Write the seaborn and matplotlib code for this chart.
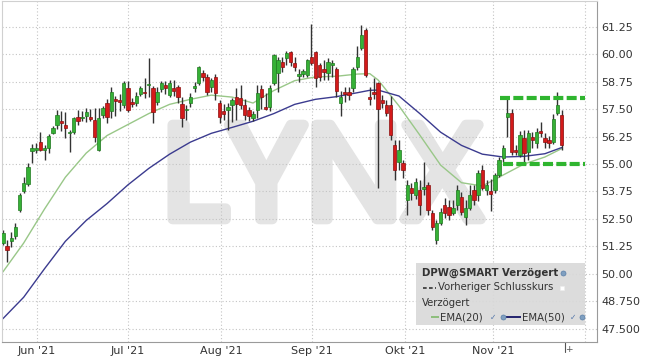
import numpy as np
import matplotlib
matplotlib.use("Agg")
import matplotlib.pyplot as plt
import matplotlib.patheffects as pe
import seaborn as sns
from matplotlib.patches import Rectangle

# ---------------- data ----------------
opens = [51.40, 51.25, 51.50, 51.70, 52.90, 53.75, 54.10, 55.60, 55.65, 56.00,
         55.65, 55.75, 56.40, 56.80, 56.98, 56.80, 56.40, 56.45, 57.15, 57.10,
         57.20, 57.15, 57.00, 55.65, 57.25, 57.80, 57.40, 57.95, 57.90, 57.70,
         58.45, 57.85, 57.80, 58.20, 58.30, 58.60, 58.45, 57.85, 58.40, 58.60,
         58.15, 58.45, 58.50, 57.75, 57.45, 57.80, 58.45, 58.70, 59.15, 58.95,
         58.50, 58.95, 57.80, 57.40, 57.45, 57.70, 58.05, 58.00, 57.70, 57.45,
         57.12, 57.45, 58.40, 57.60, 57.60, 58.70, 59.15, 59.65, 59.85, 60.10,
         59.60, 59.00, 59.10, 59.05, 59.90, 60.10, 59.50, 59.35, 59.15, 59.50,
         59.35, 57.80, 58.30, 58.30, 58.45, 59.40, 60.30, 61.10, 58.05, 58.30,
         58.70, 57.90, 57.69, 57.69, 55.87, 55.09, 55.05, 53.36, 53.90, 53.59,
         53.82, 53.85, 54.04, 52.77, 51.54, 52.30, 53.13, 53.04, 52.77, 53.13,
         53.50, 52.58, 53.00, 53.82, 53.60, 54.73, 53.82, 53.75, 53.82, 54.50,
         55.27, 57.14, 57.32, 55.65, 55.41, 56.18, 55.55, 56.23, 55.96, 56.50,
         56.18, 56.10, 56.00, 57.32, 57.23]
highs = [52.00, 51.55, 51.90, 52.30, 53.70, 54.40, 55.05, 55.90, 55.95, 56.45,
         55.85, 56.35, 56.75, 57.45, 57.40, 57.35, 56.55, 57.15, 57.45, 57.40,
         57.55, 57.50, 57.55, 57.55, 57.65, 57.95, 58.50, 58.10, 58.20, 58.80,
         58.80, 58.00, 58.30, 58.55, 58.90, 59.85, 58.55, 58.50, 58.80, 58.80,
         58.85, 58.85, 58.60, 58.05, 57.70, 58.25, 58.75, 59.45, 59.30, 59.10,
         58.90, 59.10, 57.90, 57.75, 57.80, 58.00, 58.45, 58.60, 57.95, 57.60,
         57.40, 58.60, 58.60, 58.23, 58.60, 60.00, 59.90, 59.90, 60.15, 60.15,
         59.90, 59.35, 59.35, 59.80, 61.40, 60.15, 59.60, 59.75, 59.85, 59.75,
         59.40, 58.35, 58.50, 58.50, 59.40, 60.40, 61.35, 61.20, 58.50, 58.90,
         58.75, 58.15, 57.90, 58.10, 56.10, 56.10, 55.20, 54.25, 54.13, 54.35,
         54.27, 55.10, 54.18, 52.90, 52.45, 53.00, 53.45, 53.35, 53.35, 54.04,
         53.72, 53.36, 54.04, 54.04, 54.75, 54.95, 54.27, 54.30, 54.60, 55.30,
         55.85, 58.05, 57.50, 55.87, 56.50, 56.55, 56.55, 56.45, 56.65, 56.90,
         56.41, 56.30, 57.30, 58.28, 57.46]
lows = [51.30, 50.55, 51.20, 51.60, 52.80, 53.70, 54.00, 55.05, 55.50, 55.60,
        55.20, 55.50, 56.35, 56.60, 56.50, 56.20, 55.55, 56.35, 56.80, 56.95,
        56.90, 56.95, 56.00, 55.60, 57.10, 56.85, 57.10, 57.20, 57.40, 57.55,
        57.35, 57.60, 57.65, 58.10, 58.00, 58.05, 56.85, 57.70, 58.30, 58.20,
        58.05, 58.10, 57.80, 56.70, 57.00, 57.60, 58.30, 58.60, 58.80, 58.15,
        58.30, 57.90, 56.85, 57.00, 56.55, 56.90, 57.00, 57.50, 57.00, 56.95,
        56.95, 57.10, 57.50, 57.45, 57.40, 58.60, 58.30, 59.20, 59.50, 59.45,
        59.25, 58.75, 58.95, 58.95, 59.50, 58.50, 58.80, 58.85, 58.85, 58.95,
        58.05, 57.20, 57.85, 57.90, 58.30, 59.30, 60.20, 58.95, 57.70, 57.95,
        53.90, 57.55, 57.20, 56.10, 54.25, 54.75, 54.35, 52.70, 53.36, 53.40,
        52.68, 53.60, 52.68, 52.00, 51.35, 52.20, 52.55, 52.45, 52.68, 52.90,
        52.68, 52.20, 52.90, 53.13, 53.30, 53.80, 53.60, 52.85, 53.70, 54.40,
        55.10, 56.23, 55.40, 55.40, 55.30, 55.10, 55.20, 55.75, 55.75, 56.25,
        55.75, 55.75, 55.90, 57.23, 55.64]
closes = [51.85, 51.10, 51.65, 52.15, 53.60, 54.15, 54.85, 55.75, 55.75, 55.65,
          55.75, 56.30, 56.65, 57.25, 56.85, 56.62, 56.45, 57.10, 56.95, 57.15,
          57.35, 57.05, 56.25, 57.10, 57.55, 57.15, 58.30, 57.88, 57.85, 58.70,
          57.45, 57.75, 58.10, 58.45, 58.25, 58.65, 57.35, 58.30, 58.70, 58.45,
          58.70, 58.35, 58.05, 57.10, 57.50, 58.05, 58.55, 59.40, 58.95, 58.30,
          58.85, 58.25, 57.15, 57.30, 57.60, 57.92, 57.75, 57.70, 57.25, 57.20,
          57.30, 58.25, 58.05, 57.50, 58.45, 59.95, 59.75, 59.40, 60.05, 59.65,
          59.40, 59.10, 59.25, 59.75, 59.60, 58.90, 58.95, 59.20, 59.65, 59.60,
          58.35, 58.05, 58.20, 58.15, 59.35, 59.90, 60.90, 59.05, 57.95, 58.20,
          57.50, 57.80, 57.32, 56.32, 54.73, 55.64, 54.73, 54.04, 53.68, 54.18,
          53.13, 53.95, 52.90, 52.13, 52.30, 52.80, 52.77, 52.68, 53.00, 53.82,
          52.80, 53.00, 53.59, 53.36, 54.60, 53.90, 54.04, 53.65, 54.50, 55.18,
          55.73, 57.32, 55.55, 55.55, 56.32, 55.50, 56.41, 56.10, 56.46, 56.42,
          56.00, 55.96, 57.05, 57.69, 55.87]

ema_idx = [0, 5, 10, 15, 20, 25, 30, 35, 40, 45, 50, 55, 60, 65, 70, 75, 80,
           85, 88, 90, 95, 100, 105, 110, 115, 120, 125, 130, 134]
ema20 = [50.08, 51.40, 52.95, 54.40, 55.50, 56.30, 56.80, 57.30, 57.72, 57.95,
         58.14, 58.05, 57.78, 58.35, 58.80, 58.97, 59.00, 59.10, 59.12, 58.83, 57.65,
         56.32, 54.95, 54.15, 54.00, 54.50, 55.00, 55.32, 55.70]
ema50 = [47.95, 48.93, 50.23, 51.48, 52.43, 53.20, 54.05, 54.80, 55.45, 56.00,
         56.40, 56.67, 56.95, 57.30, 57.72, 57.95, 58.07, 58.25, 58.36, 58.37, 58.10,
         57.30, 56.45, 55.85, 55.45, 55.32, 55.35, 55.47, 55.75]

month_labels = ["Jun '21", "Jul '21", "Aug '21", "Sep '21", "Okt '21", "Nov '21", ""]
month_pos = [8.1, 30.0, 52.3, 74.2, 96.5, 117.6, 139.6]
ytick_vals = [47.5, 48.75, 50.0, 51.25, 52.5, 53.75, 55.0, 56.25, 57.5, 58.75, 60.0, 61.25]
ytick_labels = ["47.500", "48.750", "50.00", "51.25", "52.50", "53.75", "55.00",
                "56.25", "57.50", "58.75", "60.00", "61.25"]
range_levels = [58.0, 55.0]
range_start = [119.3, 120.0]
range_end = 139.6

# ---------------- drawing ----------------
sns.set_theme(style="white")
plt.rcParams['font.family'] = ['DejaVu Sans']

W, H = 645, 358
fig = plt.figure(figsize=(W / 100, H / 100), dpi=100)
fig.patch.set_facecolor('white')
ax = fig.add_axes([2 / W, 16 / H, 595 / W, 341 / H])
ax.set_facecolor('white')

def axp(px, py):
    return ((px - 2) / 595.0, (342 - py) / 341.0)

# watermark (heavy, condensed)
wm_col = '#e4e4e4'
ax.text(76.2, 52.49, "LYNX", fontsize=95, fontfamily='Noto Sans', fontweight='bold',
        fontstretch='condensed', color=wm_col, ha='center', va='baseline', zorder=0.2,
        path_effects=[pe.withStroke(linewidth=7.5, foreground=wm_col)])

# candles
o = np.array(opens); c = np.array(closes)
hi = np.array(highs); lo = np.array(lows)
idx = np.arange(len(c))
up = c >= o
blo = np.minimum(o, c)
bh = np.maximum(np.abs(c - o), 0.05)
ax.vlines(idx, lo, hi, color='#333333', lw=1.0, zorder=2)
ax.bar(idx[up], bh[up], bottom=blo[up], width=0.8, color='#36b136',
       edgecolor='#1f7a1f', linewidth=0.5, zorder=3)
ax.bar(idx[~up], bh[~up], bottom=blo[~up], width=0.8, color='#d41a1a',
       edgecolor='#8a0f0f', linewidth=0.5, zorder=3)

# EMAs
sns.lineplot(x=ema_idx, y=ema20, color='#99c788', lw=1.0, ax=ax, zorder=1.5)
sns.lineplot(x=ema_idx, y=ema50, color='#3b3b8f', lw=1.0, ax=ax, zorder=1.5)

# range lines
for lvl, x0 in zip(range_levels, range_start):
    ax.plot([x0, range_end], [lvl, lvl], color='#2fb52f', lw=3.0,
            dashes=(2.4, 0.8), solid_capstyle='butt', dash_capstyle='butt', zorder=4)

# axes
ax.set_xlim(-0.2, 142.5)
ax.set_ylim(46.89, 62.43)
ax.yaxis.tick_right()
ax.set_yticks(ytick_vals)
ax.set_yticklabels(ytick_labels)
ax.set_xticks(month_pos)
ax.set_xticklabels(month_labels)
ax.tick_params(axis='both', length=0, labelsize=8, colors='#333333')
ax.tick_params(axis='y', pad=3)
ax.tick_params(axis='x', pad=3)
ax.set_axisbelow(True)
ax.grid(True, color='#c4c4c4', linestyle=(0, (1, 2)), lw=0.8)
for s in ['left', 'top']:
    ax.spines[s].set_color('#d0d0d0')
for s in ['right', 'bottom']:
    ax.spines[s].set_color('#9a9a9a')
for s in ax.spines.values():
    s.set_linewidth(0.8)

# "+" marker on time axis
x_t, _ = axp(564.5, 0)
ax.plot([x_t, x_t], [0, -0.03], transform=ax.transAxes, color='#555555', lw=0.8, clip_on=False)
ax.text(*axp(569, 350), "+", transform=ax.transAxes, fontsize=6.5, color='#555555',
        ha='center', va='center')

# legend box
bx0, by0 = axp(416, 325)
bx1, by1 = axp(585, 263)
ax.add_patch(Rectangle((bx0, by0), bx1 - bx0, by1 - by0, transform=ax.transAxes,
                       facecolor='#d9d9d9', edgecolor='none', alpha=0.92, zorder=6))
tk = dict(transform=ax.transAxes, fontsize=7.3, color='#333333', va='center', zorder=7)
ax.text(*axp(422, 273), "DPW@SMART Verzögert", fontweight='bold', ha='left', **tk)
ax.text(*axp(438, 287.5), "Vorheriger Schlusskurs", ha='left', **tk)
ax.text(*axp(422, 303), "Verzögert", ha='left', **tk)
ax.text(*axp(440, 317), "EMA(20)", ha='left', **tk)
ax.text(*axp(522, 317), "EMA(50)", ha='left', **tk)
ax.text(*axp(493, 317), "✓", ha='center', transform=ax.transAxes, fontsize=5.5,
        color='#5577aa', va='center', zorder=7)
ax.text(*axp(573, 317), "✓", ha='center', transform=ax.transAxes, fontsize=5.5,
        color='#5577aa', va='center', zorder=7)

def seg(px0, px1, py, **kw):
    a = axp(px0, py); b = axp(px1, py)
    ax.plot([a[0], b[0]], [a[1], b[1]], transform=ax.transAxes, zorder=7,
            solid_capstyle='butt', **kw)

seg(423, 436, 287.5, color='#333333', lw=1.2, dashes=(2.2, 1.4))
seg(431, 439, 317, color='#7fb86a', lw=1.2)
seg(506, 521, 317, color='#22226e', lw=1.4)
for (gx, gy) in [(563, 273), (503, 317), (582, 317)]:
    ax.plot(*axp(gx, gy), marker='o', ms=3.6, color='#7f9fc0', mec='#5a7fa8', mew=0.5,
            transform=ax.transAxes, zorder=7)
ax.plot(*axp(562, 288), marker='s', ms=3.2, color='white', mec='#eeeeee', mew=0.4,
        transform=ax.transAxes, zorder=7)

fig.savefig("out.png", dpi=100, facecolor='white')
